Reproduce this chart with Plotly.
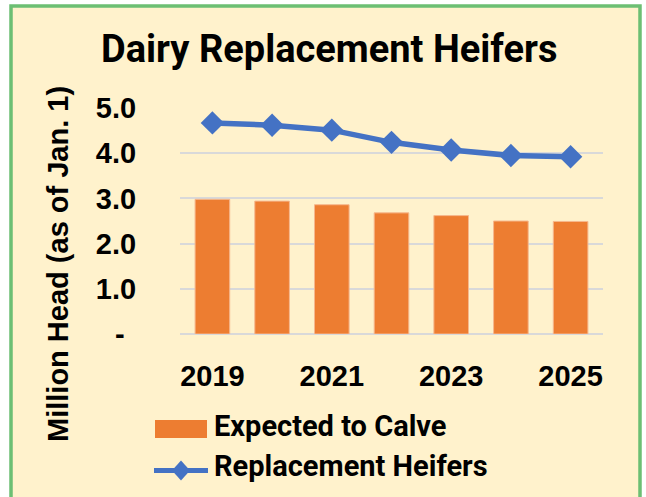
import plotly.graph_objects as go

years = ["2019", "2020", "2021", "2022", "2023", "2024", "2025"]
expected_to_calve = [2.98, 2.94, 2.86, 2.68, 2.62, 2.50, 2.49]
replacement_heifers = [4.67, 4.62, 4.51, 4.24, 4.07, 3.95, 3.92]
x_tick_labels = ["2019", "2021", "2023", "2025"]
y_tick_vals = [0, 1, 2, 3, 4, 5]
y_tick_text = ["-\u2009\u2009", "1.0", "2.0", "3.0", "4.0", "5.0"]

ORANGE = "#ED7D31"
BLUE = "#4472C4"
BG = "#FFF2CC"
GREEN = "#6CBF73"
NARROW = "Roboto, Liberation Sans, sans-serif"
SANS = "Liberation Sans, Arial, sans-serif"

W, H = 646, 497
L, R, T, B = 180, 43, 108, 163
PW, PH = W - L - R, H - T - B


def px(x):
    return (x - L) / PW


def py(y):
    return (H - B - y) / PH


fig = go.Figure()
fig.add_trace(go.Bar(
    x=years, y=expected_to_calve, name="Expected to Calve",
    marker=dict(color=ORANGE, line=dict(color="#F6B88E", width=1)),
))
fig.add_trace(go.Scatter(
    x=years, y=replacement_heifers, name="Replacement Heifers",
    mode="lines+markers",
    line=dict(color=BLUE, width=5.5),
    marker=dict(symbol="diamond", size=18, color=BLUE),
))

shapes = [
    dict(type="rect", xref="paper", yref="paper", layer="below",
         x0=px(11), x1=px(640), y0=py(505), y1=py(6),
         fillcolor=BG, line=dict(color=GREEN, width=3.5)),
    # legend: bar swatch
    dict(type="rect", xref="paper", yref="paper",
         x0=px(155), x1=px(207), y0=py(438), y1=py(420),
         fillcolor=ORANGE, line=dict(width=0)),
    # legend: line swatch
    dict(type="line", xref="paper", yref="paper",
         x0=px(154), x1=px(208), y0=py(470.5), y1=py(470.5),
         line=dict(color=BLUE, width=5)),
    dict(type="path", xref="paper", yref="paper",
         xsizemode="pixel", ysizemode="pixel",
         xanchor=px(181), yanchor=py(470.5),
         path="M -9 0 L 0 10 L 9 0 L 0 -10 Z",
         fillcolor=BLUE, line=dict(width=0)),
]

annotations = [
    dict(text="<b>Dairy Replacement Heifers</b>", xref="paper", yref="paper",
         x=px(329), y=py(48.5), showarrow=False, xanchor="center", yanchor="middle",
         font=dict(family=NARROW, size=38, color="#000000")),
    dict(text="<b>Million Head (as of Jan. 1)</b>", xref="paper", yref="paper",
         x=px(58), y=py(264), showarrow=False, textangle=-90,
         xanchor="center", yanchor="middle",
         font=dict(family=SANS, size=29, color="#000000")),
    dict(text="<b>Expected to Calve</b>", xref="paper", yref="paper",
         x=px(212), y=py(426), showarrow=False, xanchor="left", yanchor="middle",
         font=dict(family=NARROW, size=29, color="#000000")),
    dict(text="<b>Replacement Heifers</b>", xref="paper", yref="paper",
         x=px(212), y=py(466), showarrow=False, xanchor="left", yanchor="middle",
         font=dict(family=NARROW, size=29, color="#000000")),
]

fig.update_layout(
    width=W, height=H,
    margin=dict(l=L, r=R, t=T, b=B, pad=0),
    paper_bgcolor="white",
    plot_bgcolor="rgba(0,0,0,0)",
    showlegend=False,
    bargap=0.42,
    shapes=shapes,
    annotations=annotations,
    xaxis=dict(
        type="category", tickmode="array", tickvals=x_tick_labels,
        ticktext=["<b>%s</b>" % t for t in x_tick_labels],
        tickfont=dict(family=SANS, size=29, color="#000000"),
        showgrid=False, showline=False, zeroline=False,
        ticks="outside", ticklen=16, tickcolor="rgba(0,0,0,0)",
    ),
    yaxis=dict(
        range=[0, 5], tickmode="array", tickvals=y_tick_vals,
        ticktext=["<b>%s</b>" % t for t in y_tick_text],
        tickfont=dict(family=SANS, size=29, color="#000000"),
        showgrid=True, gridcolor="#D9D9D9", gridwidth=2,
        zeroline=True, zerolinecolor="#D9D9D9", zerolinewidth=2,
        showline=False,
        ticks="outside", ticklen=37, tickcolor="rgba(0,0,0,0)",
    ),
)

fig.write_html("out.html", config={"displayModeBar": False},
               post_script="document.body.style.margin='0';")
